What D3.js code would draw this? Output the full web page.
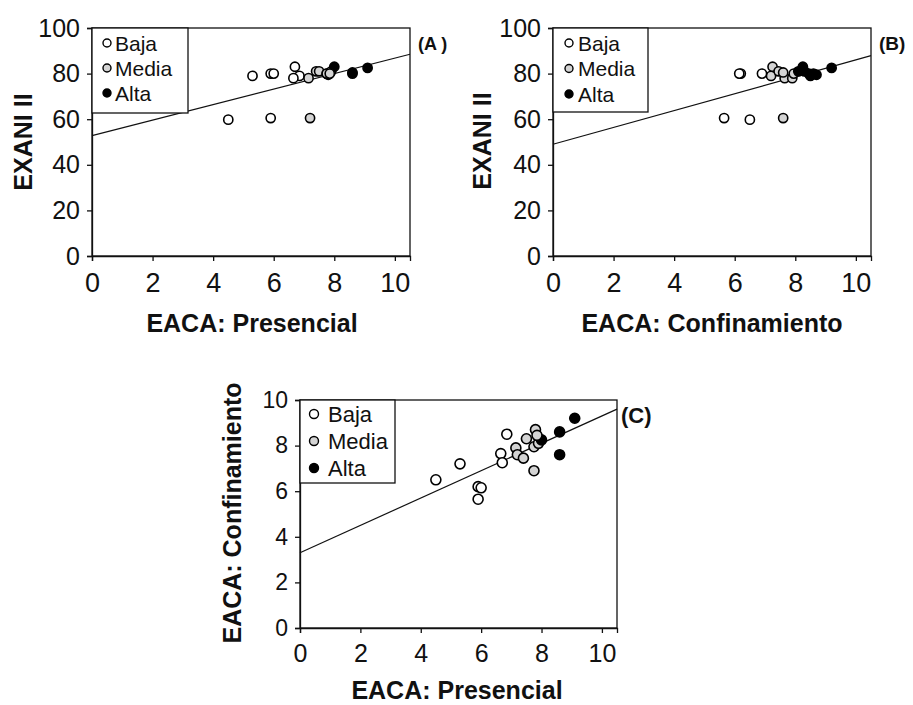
<!DOCTYPE html>
<html>
<head>
<meta charset="utf-8">
<script src="https://cdn.jsdelivr.net/npm/d3@7"></script>
<style>
  body { margin: 0; background: #fff; }
  svg { display: block; font-family: Arial, "Liberation Sans", sans-serif; }
</style>
</head>
<body>
<svg id="chart" width="913" height="705"></svg>
<script>
// one entry per student
var presencial    = [4.5, 5.3, 5.9, 6.0, 5.9, 6.85, 6.65, 6.7, 7.15, 7.2, 7.4, 7.5, 7.8, 7.75, 7.75, 7.9, 8.0, 8.6, 8.6, 9.1, 7.85];
var confinamiento = [6.5, 7.2, 6.2, 6.15, 5.65, 8.5, 7.65, 7.25, 7.9, 7.6, 7.45, 8.3, 8.7, 7.95, 6.9, 8.1, 8.25, 8.6, 7.6, 9.2, 8.45];
var exani         = [59.8, 79, 80, 80, 60.5, 79, 78, 83, 78, 60.5, 81, 81, 79.5, 80, 80, 81, 83, 80, 80.5, 82.5, 80];

var groupNames = ["Baja", "Media", "Alta"];
var groupCuts = [7, 8];          // score level limits on the x variable
var groupFill = ["#fff", "#d4d4d4", "#000"];

var eacaTicks = [0, 2, 4, 6, 8, 10];
var exaniTicks = [0, 20, 40, 60, 80, 100];

// fitted lines: [intercept, slope]
var fitA = [52.8, 3.4];
var fitB = [49, 3.7];
var fitC = [3.3, 0.6];

var panels = [
  { xs: presencial, ys: exani, yMax: 100, yTicks: exaniTicks, fit: fitA,
    left: 92, right: 410, top: 28, bottom: 256,
    xTitle: "EACA: Presencial", xTitleX: 252, xTitleY: 332,
    yTitle: "EXANI II", yTitleX: 32, yTitleY: 142,
    tag: "(A )", tagX: 418, tagY: 50, tagSize: 18,
    tickSize: 25, xTickSize: 27, r: 4.6,
    leg: { w: 96, h: 85, row0: 15, dy: 25, mx: 15, tx: 23, size: 21, r: 4 } },
  { xs: confinamiento, ys: exani, yMax: 100, yTicks: exaniTicks, fit: fitB,
    left: 553, right: 871, top: 28, bottom: 256,
    xTitle: "EACA: Confinamiento", xTitleX: 712, xTitleY: 332,
    yTitle: "EXANI II", yTitleX: 491, yTitleY: 141,
    tag: "(B)", tagX: 879, tagY: 50, tagSize: 19,
    tickSize: 25, xTickSize: 27, r: 4.6,
    leg: { w: 95, h: 84, row0: 15, dy: 25.5, mx: 16, tx: 25, size: 21, r: 4 } },
  { xs: presencial, ys: confinamiento, yMax: 10, yTicks: eacaTicks, fit: fitC,
    left: 300, right: 617, top: 400, bottom: 628,
    xTitle: "EACA: Presencial", xTitleX: 457, xTitleY: 699,
    yTitle: "EACA: Confinamiento", yTitleX: 241, yTitleY: 513,
    tag: "(C)", tagX: 621, tagY: 423, tagSize: 22,
    tickSize: 23, xTickSize: 25, r: 5,
    leg: { w: 95, h: 83, row0: 14, dy: 27, mx: 14, tx: 28, size: 22, r: 4.5 } }
];

var svg = d3.select("#chart");
var groupOf = d3.scaleThreshold().domain(groupCuts).range([0, 1, 2]);

panels.forEach(function(p) {
  var x = d3.scaleLinear().domain([0, 10.5]).range([p.left, p.right]);
  var y = d3.scaleLinear().domain([0, p.yMax]).range([p.bottom, p.top]);
  var g = svg.append("g");

  // frame
  g.append("rect")
      .attr("x", p.left).attr("y", p.top)
      .attr("width", p.right - p.left).attr("height", p.bottom - p.top)
      .attr("fill", "none").attr("stroke", "#111").attr("stroke-width", 1.3);

  // axes
  var xAxis = g.append("g")
      .attr("transform", "translate(0," + p.bottom + ")")
      .call(d3.axisBottom(x).tickValues(eacaTicks).tickSize(5).tickPadding(8).tickFormat(d3.format("d")));
  var yAxis = g.append("g")
      .attr("transform", "translate(" + p.left + ",0)")
      .call(d3.axisLeft(y).tickValues(p.yTicks).tickSize(5).tickPadding(7).tickFormat(d3.format("d")));
  [xAxis, yAxis].forEach(function(a) {
    a.select(".domain").attr("stroke", "#111").attr("stroke-width", 1.3);
    a.selectAll(".tick line").attr("stroke", "#111").attr("stroke-width", 1.3);
    a.selectAll("text").attr("fill", "#111").attr("font-family", "Arial, 'Liberation Sans', sans-serif");
  });
  xAxis.selectAll("text").attr("font-size", p.xTickSize).attr("dy", "0.85em");
  yAxis.selectAll("text").attr("font-size", p.tickSize);

  // regression line
  var fx = [0, 10.5];
  g.append("line")
      .attr("x1", x(fx[0])).attr("y1", y(p.fit[0] + p.fit[1] * fx[0]))
      .attr("x2", x(fx[1])).attr("y2", y(p.fit[0] + p.fit[1] * fx[1]))
      .attr("stroke", "#111").attr("stroke-width", 1.2);

  // points
  g.append("g").selectAll("circle")
      .data(p.xs.map(function(v, i) { return { x: v, y: p.ys[i], grp: groupOf(v) }; }))
      .enter().append("circle")
      .attr("cx", function(d) { return x(d.x); })
      .attr("cy", function(d) { return y(d.y); })
      .attr("r", p.r)
      .attr("fill", function(d) { return groupFill[d.grp]; })
      .attr("stroke", "#000").attr("stroke-width", 1.6);

  // legend
  var L = p.leg;
  var leg = g.append("g").attr("transform", "translate(" + p.left + "," + p.top + ")");
  leg.append("rect")
      .attr("width", L.w).attr("height", L.h)
      .attr("fill", "#fff").attr("stroke", "#111").attr("stroke-width", 1.3);
  var rows = leg.selectAll(".legend-entry")
      .data(groupNames)
      .enter().append("g")
      .attr("class", "legend-entry")
      .attr("transform", function(d, i) { return "translate(0," + (L.row0 + i * L.dy) + ")"; });
  rows.append("circle")
      .attr("cx", L.mx).attr("r", L.r)
      .attr("fill", function(d, i) { return groupFill[i]; })
      .attr("stroke", "#000").attr("stroke-width", 1.4);
  rows.append("text")
      .attr("x", L.tx).attr("dy", "0.36em")
      .attr("font-size", L.size).attr("fill", "#111")
      .text(function(d) { return d; });

  // titles
  g.append("text")
      .attr("x", p.xTitleX).attr("y", p.xTitleY)
      .attr("text-anchor", "middle").attr("font-weight", "bold")
      .attr("font-size", 25).attr("fill", "#111")
      .text(p.xTitle);
  g.append("text")
      .attr("transform", "translate(" + p.yTitleX + "," + p.yTitleY + ") rotate(-90)")
      .attr("text-anchor", "middle").attr("font-weight", "bold")
      .attr("font-size", 25).attr("fill", "#111")
      .text(p.yTitle);
  g.append("text")
      .attr("x", p.tagX).attr("y", p.tagY)
      .attr("font-weight", "bold").attr("font-size", p.tagSize).attr("fill", "#111")
      .style("white-space", "pre")
      .text(p.tag);
});
</script>
</body>
</html>
